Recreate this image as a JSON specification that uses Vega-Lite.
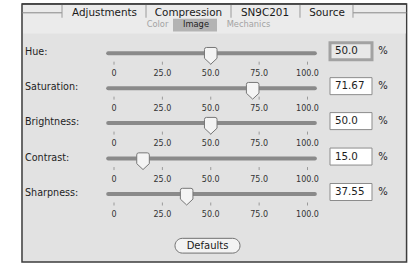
{
  "$schema": "https://vega.github.io/schema/vega-lite/v6.json",
  "width": 410,
  "height": 263,
  "autosize": {"type": "fit", "contains": "padding"},
  "padding": 0,
  "background": "#ffffff",
  "config": {"view": {"stroke": null}, "text": {"font": "DejaVu Sans"}},
  "datasets": {
    "sliders": [
      {"name": "Hue:", "value": 50, "display": "50.0", "y": 54},
      {"name": "Saturation:", "value": 71.67, "display": "71.67", "y": 89.5},
      {"name": "Brightness:", "value": 50, "display": "50.0", "y": 125},
      {"name": "Contrast:", "value": 15, "display": "15.0", "y": 161},
      {"name": "Sharpness:", "value": 37.55, "display": "37.55", "y": 197}
    ],
    "ticks": [
      {"y": 54, "v": 0, "t": "0"}, {"y": 54, "v": 25, "t": "25.0"}, {"y": 54, "v": 50, "t": "50.0"}, {"y": 54, "v": 75, "t": "75.0"}, {"y": 54, "v": 100, "t": "100.0"},
      {"y": 89.5, "v": 0, "t": "0"}, {"y": 89.5, "v": 25, "t": "25.0"}, {"y": 89.5, "v": 50, "t": "50.0"}, {"y": 89.5, "v": 75, "t": "75.0"}, {"y": 89.5, "v": 100, "t": "100.0"},
      {"y": 125, "v": 0, "t": "0"}, {"y": 125, "v": 25, "t": "25.0"}, {"y": 125, "v": 50, "t": "50.0"}, {"y": 125, "v": 75, "t": "75.0"}, {"y": 125, "v": 100, "t": "100.0"},
      {"y": 161, "v": 0, "t": "0"}, {"y": 161, "v": 25, "t": "25.0"}, {"y": 161, "v": 50, "t": "50.0"}, {"y": 161, "v": 75, "t": "75.0"}, {"y": 161, "v": 100, "t": "100.0"},
      {"y": 197, "v": 0, "t": "0"}, {"y": 197, "v": 25, "t": "25.0"}, {"y": 197, "v": 50, "t": "50.0"}, {"y": 197, "v": 75, "t": "75.0"}, {"y": 197, "v": 100, "t": "100.0"}
    ],
    "tabs": [
      {"tab": "Adjustments", "x": -4.91},
      {"tab": "Compression", "x": 38.5},
      {"tab": "SN9C201", "x": 78.04},
      {"tab": "Source", "x": 110.08}
    ],
    "dividers": [
      {"x": -26.87}, {"x": 16.54}, {"x": 60.47}, {"x": 96.12}, {"x": 123.51}
    ],
    "subtabs": [
      {"sub": "Color", "x": 22.48, "active": false},
      {"sub": "Image", "x": 42.38, "active": true},
      {"sub": "Mechanics", "x": 69.51, "active": false}
    ],
    "one": [{}]
  },
  "layer": [
    {
      "data": {"name": "one"},
      "mark": {"type": "rect", "fill": "#e2e2e2", "stroke": "#3c3c3c", "strokeWidth": 1.5},
      "encoding": {
        "x": {"datum": -47.55, "type": "quantitative", "scale": {"domain": [-58.915, 152.97], "nice": false, "zero": false}, "axis": null},
        "x2": {"datum": 151.2},
        "y": {"datum": 4, "type": "quantitative", "scale": {"domain": [0, 263], "reverse": true, "nice": false, "zero": false}, "axis": null},
        "y2": {"datum": 266}
      }
    },
    {
      "data": {"name": "one"},
      "mark": {"type": "rect", "fill": "#ebebeb"},
      "encoding": {
        "x": {"datum": -47.0, "type": "quantitative", "axis": null},
        "x2": {"datum": 150.8},
        "y": {"datum": 4.8, "type": "quantitative", "axis": null},
        "y2": {"datum": 34}
      }
    },
    {
      "data": {"name": "one"},
      "mark": {"type": "rule", "color": "#3c3c3c", "strokeWidth": 1.5},
      "encoding": {
        "x": {"datum": -47.55, "type": "quantitative", "axis": null},
        "x2": {"datum": 151.2},
        "y": {"datum": 4, "type": "quantitative", "axis": null}
      }
    },
    {
      "data": {"name": "one"},
      "mark": {"type": "rule", "color": "#888888", "strokeWidth": 1},
      "encoding": {
        "x": {"datum": -47.55, "type": "quantitative", "axis": null},
        "x2": {"datum": -26.87},
        "y": {"datum": 13, "type": "quantitative", "axis": null}
      }
    },
    {
      "data": {"name": "one"},
      "mark": {"type": "rule", "color": "#888888", "strokeWidth": 1},
      "encoding": {
        "x": {"datum": 123.51, "type": "quantitative", "axis": null},
        "x2": {"datum": 151.2},
        "y": {"datum": 13, "type": "quantitative", "axis": null}
      }
    },
    {
      "data": {"name": "dividers"},
      "mark": {"type": "rule", "color": "#9a9a9a", "strokeWidth": 1},
      "encoding": {
        "x": {"field": "x", "type": "quantitative", "axis": null},
        "y": {"datum": 5, "type": "quantitative", "axis": null},
        "y2": {"datum": 18}
      }
    },
    {
      "data": {"name": "tabs"},
      "mark": {"type": "text", "fontSize": 10.4, "color": "#1a1a1a", "align": "center", "baseline": "middle"},
      "encoding": {
        "x": {"field": "x", "type": "quantitative", "axis": null},
        "y": {"datum": 13, "type": "quantitative", "axis": null},
        "text": {"field": "tab"}
      }
    },
    {
      "data": {"name": "one"},
      "mark": {"type": "rect", "fill": "#b3b3b3"},
      "encoding": {
        "x": {"datum": 30.49, "type": "quantitative", "axis": null},
        "x2": {"datum": 53.23},
        "y": {"datum": 19, "type": "quantitative", "axis": null},
        "y2": {"datum": 32}
      }
    },
    {
      "data": {"name": "subtabs"},
      "transform": [{"filter": "!datum.active"}],
      "mark": {"type": "text", "fontSize": 8.3, "color": "#a3a3a3", "align": "center", "baseline": "middle"},
      "encoding": {
        "x": {"field": "x", "type": "quantitative", "axis": null},
        "y": {"datum": 25.5, "type": "quantitative", "axis": null},
        "text": {"field": "sub"}
      }
    },
    {
      "data": {"name": "subtabs"},
      "transform": [{"filter": "datum.active"}],
      "mark": {"type": "text", "fontSize": 8.3, "color": "#222222", "align": "center", "baseline": "middle"},
      "encoding": {
        "x": {"field": "x", "type": "quantitative", "axis": null},
        "y": {"datum": 25.5, "type": "quantitative", "axis": null},
        "text": {"field": "sub"}
      }
    },
    {
      "data": {"name": "sliders"},
      "mark": {"type": "text", "fontSize": 9.6, "color": "#1e1e1e", "align": "left", "baseline": "middle", "dy": -1},
      "encoding": {
        "x": {"datum": -46.0, "type": "quantitative", "axis": null},
        "y": {"field": "y", "type": "quantitative", "axis": null},
        "text": {"field": "name"}
      }
    },
    {
      "data": {"name": "sliders"},
      "mark": {"type": "rule", "color": "#8a8a8a", "strokeWidth": 4, "strokeCap": "round"},
      "encoding": {
        "x": {"datum": -3.0, "type": "quantitative", "axis": null},
        "x2": {"datum": 103.8},
        "y": {"field": "y", "type": "quantitative", "axis": null}
      }
    },
    {
      "data": {"name": "ticks"},
      "mark": {"type": "point", "shape": "M0,8.5 L0,11.5", "size": 4, "filled": false, "stroke": "#9a9a9a", "strokeWidth": 1, "opacity": 1},
      "encoding": {
        "x": {"field": "v", "type": "quantitative", "axis": null},
        "y": {"field": "y", "type": "quantitative", "axis": null}
      }
    },
    {
      "data": {"name": "ticks"},
      "mark": {"type": "text", "fontSize": 8, "color": "#333333", "align": "center", "baseline": "middle", "dy": 21},
      "encoding": {
        "x": {"field": "v", "type": "quantitative", "axis": null},
        "y": {"field": "y", "type": "quantitative", "axis": null},
        "text": {"field": "t"}
      }
    },
    {
      "data": {"name": "sliders"},
      "mark": {"type": "point", "shape": "M-0.74,-0.435 Q-0.74,-0.67 -0.505,-0.67 L0.505,-0.67 Q0.74,-0.67 0.74,-0.435 L0.74,0.6 L0,1.294 L-0.74,0.6 Z", "size": 289, "filled": true, "fill": "#f4f4f4", "stroke": "#777777", "strokeWidth": 1, "opacity": 1},
      "encoding": {
        "x": {"field": "value", "type": "quantitative", "axis": null},
        "y": {"field": "y", "type": "quantitative", "axis": null}
      }
    },
    {
      "data": {"name": "sliders"},
      "transform": [{"filter": "datum.name !== 'Hue:'"}],
      "mark": {"type": "point", "shape": "M-2.47,-1.235 L2.47,-1.235 L2.47,0.765 L-2.47,0.765 Z", "size": 289, "filled": true, "fill": "#ffffff", "stroke": "#8c8c8c", "strokeWidth": 1, "opacity": 1},
      "encoding": {
        "x": {"datum": 122.48, "type": "quantitative", "axis": null},
        "y": {"field": "y", "type": "quantitative", "axis": null}
      }
    },
    {
      "data": {"name": "sliders"},
      "transform": [{"filter": "datum.name === 'Hue:'"}],
      "mark": {"type": "point", "shape": "M-2.47,-1.235 L2.47,-1.235 L2.47,0.765 L-2.47,0.765 Z", "size": 289, "filled": true, "fill": "#e8e8e8", "stroke": "#a2a2a2", "strokeWidth": 3, "opacity": 1},
      "encoding": {
        "x": {"datum": 122.48, "type": "quantitative", "axis": null},
        "y": {"field": "y", "type": "quantitative", "axis": null}
      }
    },
    {
      "data": {"name": "sliders"},
      "mark": {"type": "text", "fontSize": 10.3, "color": "#1e1e1e", "align": "left", "baseline": "middle", "dy": -2},
      "encoding": {
        "x": {"datum": 114.21, "type": "quantitative", "axis": null},
        "y": {"field": "y", "type": "quantitative", "axis": null},
        "text": {"field": "display"}
      }
    },
    {
      "data": {"name": "sliders"},
      "mark": {"type": "text", "fontSize": 10, "color": "#1e1e1e", "align": "center", "baseline": "middle", "dy": -2, "text": "%"},
      "encoding": {
        "x": {"datum": 139.02, "type": "quantitative", "axis": null},
        "y": {"field": "y", "type": "quantitative", "axis": null}
      }
    },
    {
      "data": {"name": "one"},
      "mark": {"type": "rect", "fill": "#f3f3f3", "stroke": "#707070", "strokeWidth": 1, "cornerRadius": 7.5},
      "encoding": {
        "x": {"datum": 31.52, "type": "quantitative", "axis": null},
        "x2": {"datum": 65.12},
        "y": {"datum": 242, "type": "quantitative", "axis": null},
        "y2": {"datum": 257}
      }
    },
    {
      "data": {"name": "one"},
      "mark": {"type": "text", "fontSize": 10, "color": "#1a1a1a", "align": "center", "baseline": "middle", "text": "Defaults"},
      "encoding": {
        "x": {"datum": 48.32, "type": "quantitative", "axis": null},
        "y": {"datum": 249.5, "type": "quantitative", "axis": null}
      }
    }
  ]
}
